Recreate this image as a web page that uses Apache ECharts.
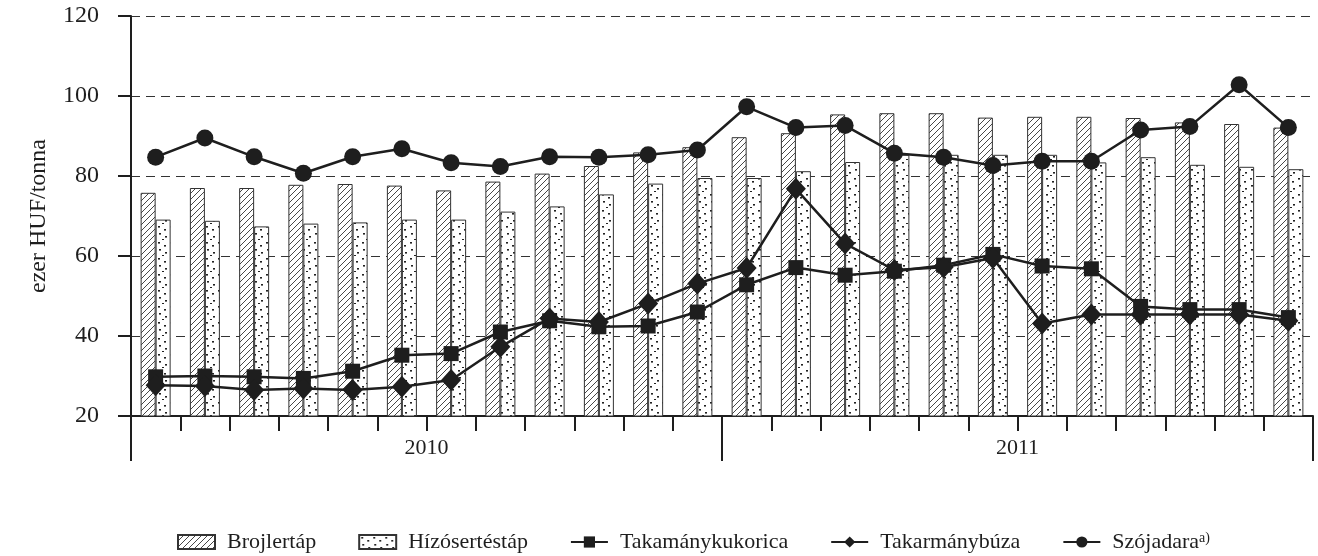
<!DOCTYPE html>
<html>
<head>
<meta charset="utf-8">
<script src="https://cdn.jsdelivr.net/npm/echarts@6/dist/echarts.min.js"></script>
<style>
  html, body { margin: 0; padding: 0; background: #fff; }
  #chart { width: 1318px; height: 556px; }
</style>
</head>
<body>
<div id="chart"></div>
<script>
// havi adatok 2010 jan - 2011 dec
var months = ['2010-01','2010-02','2010-03','2010-04','2010-05','2010-06','2010-07','2010-08','2010-09','2010-10','2010-11','2010-12',
              '2011-01','2011-02','2011-03','2011-04','2011-05','2011-06','2011-07','2011-08','2011-09','2011-10','2011-11','2011-12'];
var years = ['2010', '2011'];
var brojlertap = [75.8, 77.0, 77.0, 77.8, 78.0, 77.6, 76.4, 78.6, 80.6, 82.5, 85.9, 87.2, 89.7, 90.7, 95.4, 95.7, 95.7, 94.6, 94.8, 94.8, 94.5, 93.4, 93.0, 92.1];
var hizosertestap = [69.1, 68.8, 67.4, 68.1, 68.4, 69.1, 69.1, 71.1, 72.4, 75.4, 78.1, 79.5, 79.5, 81.2, 83.5, 85.3, 85.3, 85.3, 85.3, 83.4, 84.7, 82.8, 82.3, 81.7];
var kukorica = [29.8, 30.0, 29.8, 29.4, 31.2, 35.2, 35.6, 41.0, 43.8, 42.3, 42.5, 46.0, 52.8, 57.1, 55.2, 56.2, 57.7, 60.4, 57.5, 56.8, 47.4, 46.6, 46.6, 44.6];
var buza = [27.7, 27.5, 26.5, 26.9, 26.5, 27.3, 29.0, 37.3, 44.4, 43.5, 48.1, 53.1, 57.0, 76.8, 63.1, 56.5, 57.2, 59.5, 43.1, 45.4, 45.4, 45.4, 45.4, 43.8];
var szoja = [84.7, 89.5, 84.8, 80.7, 84.8, 86.8, 83.3, 82.4, 84.8, 84.7, 85.3, 86.5, 97.3, 92.1, 92.6, 85.7, 84.7, 82.6, 83.7, 83.7, 91.5, 92.4, 102.8, 92.1];
var yTicks = [20, 40, 60, 80, 100, 120];

var ink = '#1e1e1e';
var font = '"Liberation Serif", "Times New Roman", serif';

// mintázatok (csíkos és pöttyös)
function hatchPattern() {
  var c = document.createElement('canvas');
  c.width = 6; c.height = 6;
  var ctx = c.getContext('2d');
  ctx.fillStyle = '#fff';
  ctx.fillRect(0, 0, 6, 6);
  ctx.strokeStyle = '#333';
  ctx.lineWidth = 0.9;
  ctx.beginPath();
  ctx.moveTo(0, 6); ctx.lineTo(6, 0);
  ctx.moveTo(-1, 1); ctx.lineTo(1, -1);
  ctx.moveTo(5, 7); ctx.lineTo(7, 5);
  ctx.stroke();
  return c;
}
function dotPattern() {
  var c = document.createElement('canvas');
  c.width = 12; c.height = 16;
  var ctx = c.getContext('2d');
  ctx.fillStyle = '#fff';
  ctx.fillRect(0, 0, 12, 16);
  ctx.fillStyle = '#222';
  [[2, 2], [8, 5], [3, 9], [9, 12], [6, 15]].forEach(function (p) {
    ctx.fillRect(p[0], p[1], 2, 1.6);
  });
  return c;
}

var myChart = echarts.init(document.getElementById('chart'));
var option = {
  backgroundColor: '#fff',
  animation: false,
  textStyle: { fontFamily: font, color: ink },
  grid: { left: 131, right: 5, top: 16, bottom: 140, containLabel: false },
  legend: {
    top: 526,
    left: 172,
    itemWidth: 37,
    itemHeight: 14,
    itemGap: 42,
    textStyle: {
      fontFamily: font, fontSize: 22, color: ink, padding: [0, 0, 0, 7],
      rich: { sup: { fontFamily: font, fontSize: 14, color: ink, verticalAlign: 'top', padding: [0, 0, 8, 0] } }
    },
    formatter: function (name) {
      return name === 'Szójadara' ? 'Szójadara{sup|a)}' : name;
    },
    data: [
      { name: 'Brojlertáp', icon: 'rect' },
      { name: 'Hízósertéstáp', icon: 'rect' },
      'Takamánykukorica', 'Takarmánybúza', 'Szójadara'
    ]
  },
  xAxis: [
    {
      type: 'category',
      data: months,
      boundaryGap: true,
      axisLine: { show: true, lineStyle: { color: ink, width: 2 } },
      axisTick: { show: true, interval: 0, length: 15, lineStyle: { color: ink, width: 2 } },
      axisLabel: { show: false },
      splitLine: { show: false }
    },
    {
      type: 'category',
      data: years,
      position: 'bottom',
      boundaryGap: true,
      axisLine: { show: false },
      axisTick: { show: true, interval: 0, length: 45, lineStyle: { color: ink, width: 2 } },
      axisLabel: { margin: 21, fontSize: 22, fontFamily: font, color: ink },
      splitLine: { show: false }
    }
  ],
  yAxis: {
    type: 'value',
    min: 20,
    max: 120,
    interval: 20,
    name: 'ezer HUF/tonna',
    nameLocation: 'middle',
    nameRotate: 90,
    nameGap: 80,
    nameTextStyle: { fontFamily: font, fontSize: 24, color: ink },
    axisLine: { show: true, lineStyle: { color: ink, width: 2 } },
    axisTick: { show: true, length: 13, lineStyle: { color: ink, width: 2 } },
    axisLabel: {
      margin: 32, fontSize: 24, fontFamily: font, color: ink,
      formatter: function (v) { return yTicks.indexOf(v) >= 0 ? String(v) : ''; }
    },
    splitLine: { lineStyle: { color: '#333', width: 1, type: [9, 6] } }
  },
  series: [
    {
      name: 'Brojlertáp',
      type: 'bar',
      data: brojlertap,
      barWidth: 15,
      barGap: '0%',
      itemStyle: { color: { image: hatchPattern(), repeat: 'repeat' }, borderColor: '#333', borderWidth: 1 }
    },
    {
      name: 'Hízósertéstáp',
      type: 'bar',
      data: hizosertestap,
      barWidth: 15,
      barGap: '0%',
      itemStyle: { color: { image: dotPattern(), repeat: 'repeat' }, borderColor: '#333', borderWidth: 1 }
    },
    {
      name: 'Takamánykukorica',
      type: 'line',
      data: kukorica,
      symbol: 'rect',
      symbolSize: 15,
      lineStyle: { color: ink, width: 2.5 },
      itemStyle: { color: ink }
    },
    {
      name: 'Takarmánybúza',
      type: 'line',
      data: buza,
      symbol: 'diamond',
      symbolSize: [20, 22],
      lineStyle: { color: ink, width: 2.5 },
      itemStyle: { color: ink }
    },
    {
      name: 'Szójadara',
      type: 'line',
      data: szoja,
      symbol: 'circle',
      symbolSize: 17,
      lineStyle: { color: ink, width: 2.5 },
      itemStyle: { color: ink }
    }
  ]
};
myChart.setOption(option);
</script>
</body>
</html>
